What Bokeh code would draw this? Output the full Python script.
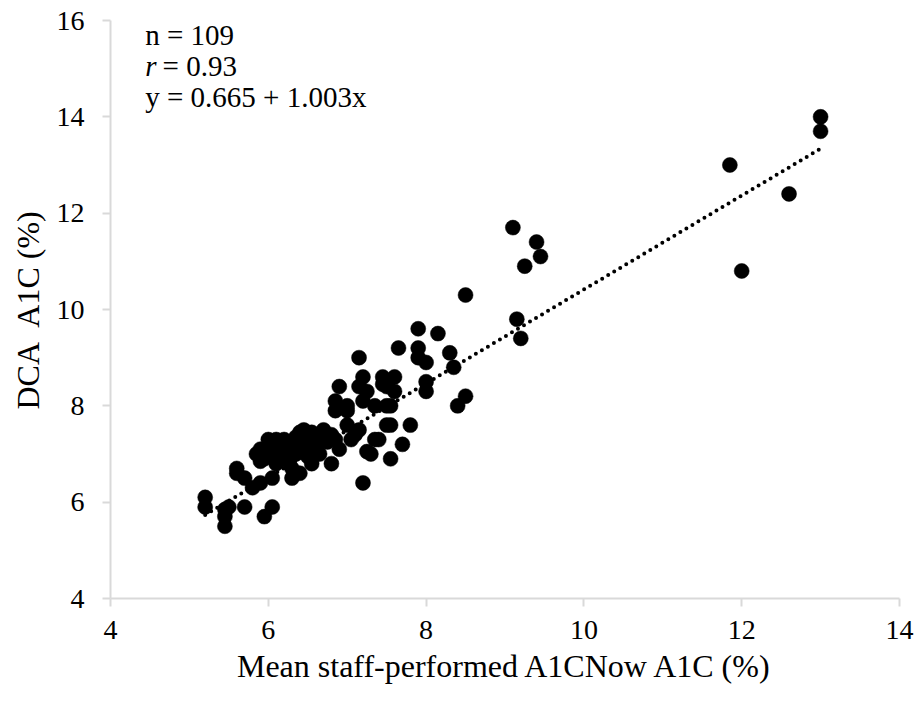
from bokeh.plotting import figure
from bokeh.models import Range1d, FixedTicker, Label, ColumnDataSource
from bokeh.embed import file_html
from bokeh.resources import INLINE

# ---- data ----
x_vals = [13.0, 13.0, 11.85, 12.6, 12.0, 9.1, 9.4, 9.45, 9.25, 8.5, 9.15, 9.2,
          7.9, 8.15, 7.65, 7.9, 8.3, 7.9, 8.0, 8.35, 7.15, 7.2, 7.45, 7.6,
          7.15, 7.25, 7.5, 7.6, 8.0, 8.0, 6.9, 6.85, 7.0, 7.2, 7.35, 7.5,
          6.85, 7.0, 8.5, 8.4, 7.0, 7.15, 7.5, 7.8, 7.05, 7.35, 7.7, 7.3,
          7.55, 7.2, 7.55, 7.4,
          5.2, 5.2, 5.45, 5.5, 5.45, 5.45, 5.7, 5.6, 5.6, 5.7, 5.95, 6.05,
          5.8, 5.9, 6.05, 5.85, 5.9, 5.9, 6.0, 6.1, 6.05, 6.1, 6.2, 6.25,
          6.3, 6.4, 6.35, 6.35, 6.45, 6.5, 6.4, 6.55, 6.7, 6.4, 6.6, 6.75,
          6.9, 6.5, 6.65, 6.8, 6.3, 7.25, 6.0, 6.15, 5.95,
          6.2, 6.6, 6.8, 6.1, 6.45, 7.1, 6.55, 5.95, 6.85, 7.45, 7.55, 6.25]
y_vals = [14.0, 13.7, 13.0, 12.4, 10.8, 11.7, 11.4, 11.1, 10.9, 10.3, 9.8, 9.4,
          9.6, 9.5, 9.2, 9.2, 9.1, 9.0, 8.9, 8.8, 9.0, 8.6, 8.6, 8.6,
          8.4, 8.3, 8.4, 8.3, 8.5, 8.3, 8.4, 8.1, 8.0, 8.1, 8.0, 8.0,
          7.9, 7.9, 8.2, 8.0, 7.6, 7.5, 7.6, 7.6, 7.3, 7.3, 7.2, 7.0,
          6.9, 6.4, 7.6, 7.3,
          6.1, 5.9, 5.85, 5.9, 5.7, 5.5, 5.9, 6.6, 6.7, 6.5, 5.7, 5.9,
          6.3, 6.4, 6.5, 7.0, 7.1, 6.85, 7.3, 7.3, 7.05, 6.8, 7.05, 6.85,
          6.5, 6.6, 7.0, 7.35, 7.5, 7.2, 7.45, 7.45, 7.5, 7.25, 7.2, 7.25,
          7.1, 6.95, 7.0, 6.8, 6.7, 7.05, 6.95, 7.15, 6.9,
          7.3, 7.35, 7.4, 7.0, 7.05, 7.4, 6.8, 7.05, 7.3, 8.45, 8.0, 7.2]

x_ticks = [4, 6, 8, 10, 12, 14]
y_ticks = [4, 6, 8, 10, 12, 14, 16]

trend_intercept = 0.665
trend_slope = 0.975

stats_lines = ["n = 109", "= 0.93", "y = 0.665 + 1.003x"]

x_title = "Mean staff-performed A1CNow A1C (%)"
y_title = "DCA\u00a0 A1C (%)"

FONT = "Liberation Serif"

p = figure(width=914, height=696, output_backend="svg", toolbar_location=None,
           x_range=Range1d(4, 14), y_range=Range1d(4, 16),
           min_border_left=110, min_border_right=15,
           min_border_top=20, min_border_bottom=98)

p.outline_line_color = None
p.background_fill_color = "white"
p.border_fill_color = "white"
p.xgrid.visible = False
p.ygrid.visible = False

p.xaxis.ticker = FixedTicker(ticks=x_ticks)
p.yaxis.ticker = FixedTicker(ticks=y_ticks)

for ax in (p.xaxis[0], p.yaxis[0]):
    ax.axis_line_color = "#d9d9d9"
    ax.axis_line_width = 2
    ax.major_tick_line_color = "#d9d9d9"
    ax.major_tick_line_width = 2
    ax.major_tick_out = 8
    ax.major_tick_in = 0
    ax.minor_tick_line_color = None
    ax.major_label_text_font = FONT
    ax.major_label_text_font_size = "28px"
    ax.major_label_text_color = "black"
    ax.axis_label_text_font = FONT
    ax.axis_label_text_font_size = "32px"
    ax.axis_label_text_font_style = "normal"
    ax.axis_label_text_color = "black"

p.xaxis.axis_label = x_title
p.yaxis.axis_label = y_title
p.xaxis.major_label_standoff = 14
p.yaxis.major_label_standoff = 18
p.xaxis.axis_label_standoff = 6
p.yaxis.axis_label_standoff = 8

# trend line (dotted), spanning the data range
x0, x1 = min(x_vals), max(x_vals)
tx = [x0, x1]
ty = [trend_intercept + trend_slope * v for v in tx]
p.line(tx, ty, line_color="black", line_width=4, line_dash="0 7",
       line_cap="round")

src = ColumnDataSource(dict(x=x_vals, y=y_vals))
p.scatter("x", "y", source=src, size=15, fill_color="black", line_color="black",
          line_width=0.5)

# annotation text
p.add_layout(Label(x=4.44, y=15.37, text=stats_lines[0], text_font=FONT,
                   text_font_size="29px", text_color="black"))
p.add_layout(Label(x=4.44, y=14.72, text="r", text_font=FONT,
                   text_font_style="italic",
                   text_font_size="29px", text_color="black"))
p.add_layout(Label(x=4.66, y=14.72, text=stats_lines[1], text_font=FONT,
                   text_font_size="29px", text_color="black"))
p.add_layout(Label(x=4.44, y=14.07, text=stats_lines[2], text_font=FONT,
                   text_font_size="29px", text_color="black"))

open("out.html", "w").write(file_html(p, INLINE))
